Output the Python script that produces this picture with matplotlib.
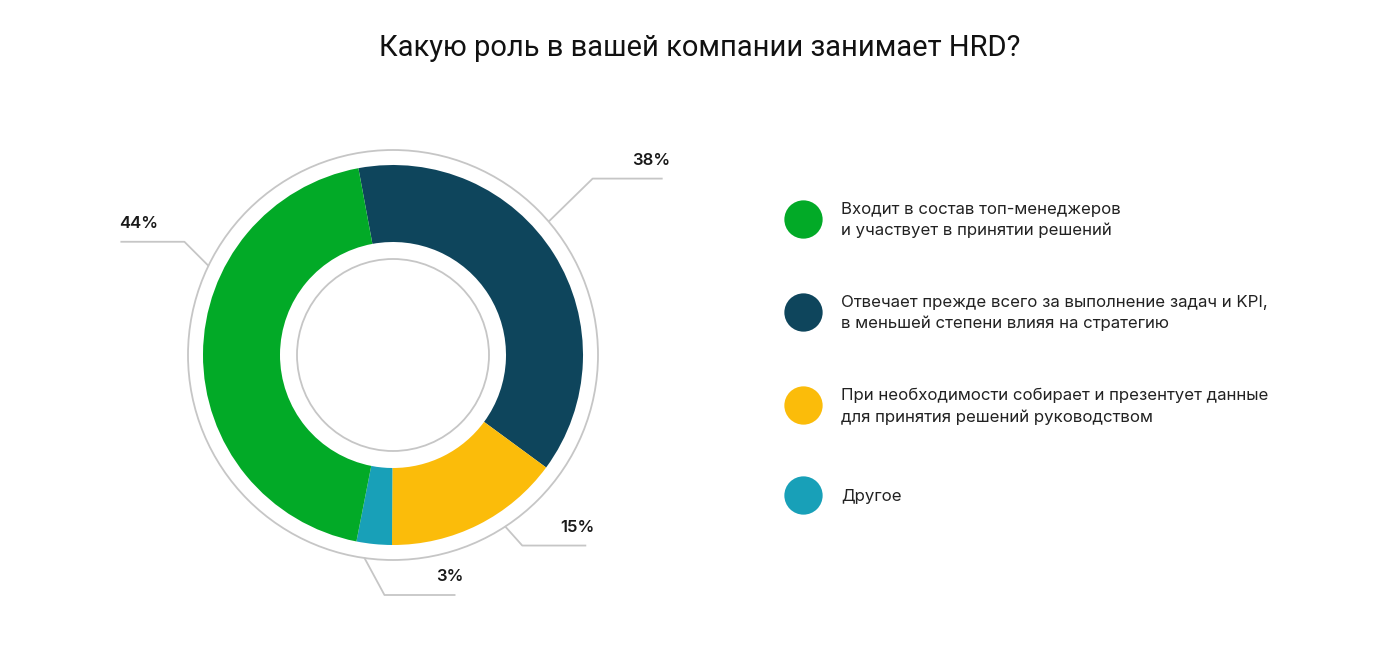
import matplotlib.pyplot as plt
from matplotlib.patches import Circle
import numpy as np

title = "Какую роль в вашей компании занимает HRD?"
labels = [
    "Отвечает прежде всего за выполнение задач и KPI,\nв меньшей степени влияя на стратегию",
    "При необходимости собирает и презентует данные\nдля принятия решений руководством",
    "Другое",
    "Входит в состав топ-менеджеров\nи участвует в принятии решений",
]
values = [38, 15, 3, 44]
colors = ["#0e455c", "#fbbc0a", "#18a0b8", "#02aa27"]

# legend order as in the picture
legend_order = [3, 0, 1, 2]

# leader line styling: anchor angle on the outer ring, elbow offset, horizontal run
leader_angle = [40.6, -56.8, -98.0, 154.2]
leader_elbow = [(44, 43), (17, 19), (20, 37), (-24, -24)]
leader_run = [70, 64, 71, -64]

W, H = 1400, 665
fig = plt.figure(figsize=(W / 100, H / 100), dpi=100)
ax = fig.add_axes([0, 0, 1, 1])
ax.set_xlim(0, W)
ax.set_ylim(H, 0)
ax.axis("off")

cx, cy = 393, 355
r_out, r_in = 190, 113

# pie drawn in a y-up frame so that clockwise stays clockwise
pax = fig.add_axes([0, 0, 1, 1])
pax.pie(values, colors=colors, startangle=100.5, counterclock=False,
        center=(cx, H - cy), radius=r_out,
        wedgeprops=dict(width=r_out - r_in, linewidth=0), frame=True)
pax.set_xlim(0, W)
pax.set_ylim(0, H)
pax.axis("off")

ring = "#c6c6c6"
ax.add_patch(Circle((cx, cy), 205, fill=False, ec=ring, lw=1.3))
ax.add_patch(Circle((cx, cy), 96, fill=False, ec=ring, lw=1.3))

for i, v in enumerate(values):
    a = np.deg2rad(leader_angle[i])
    x0 = cx + 205 * np.cos(a)
    y0 = cy - 205 * np.sin(a)
    ex, ey = leader_elbow[i]
    x1 = x0 + ex
    if 0 < leader_angle[i] < 90:
        y1 = y0 - ey
    else:
        y1 = y0 + ey
    x2 = x1 + leader_run[i]
    ax.plot([x0, x1, x2], [y0, y1, y1], color=ring, lw=1.3, solid_capstyle="butt")
    if leader_run[i] > 0:
        ax.text(x2 + 8, y1 - 11, f"{v}%", ha="right", va="bottom",
                fontsize=12, fontweight="semibold", family="Inter", color="#1a1a1a")
    else:
        ax.text(x2 - 1, y1 - 11, f"{v}%", ha="left", va="bottom",
                fontsize=12, fontweight="semibold", family="Inter", color="#1a1a1a")

ax.text(700, 48, title, ha="center", va="center", fontsize=21,
        family="Roboto", color="#111111")

leg_y = [219, 312, 405, 495]
for k, idx in enumerate(legend_order):
    ax.scatter([803], [leg_y[k]], s=760, color=colors[idx], linewidths=0)
    ax.text(841, leg_y[k] + 1, labels[idx], ha="left", va="center", fontsize=12.1,
            family="Inter", color="#222222", linespacing=1.5)

fig.savefig("out.png", dpi=100, facecolor="white")
